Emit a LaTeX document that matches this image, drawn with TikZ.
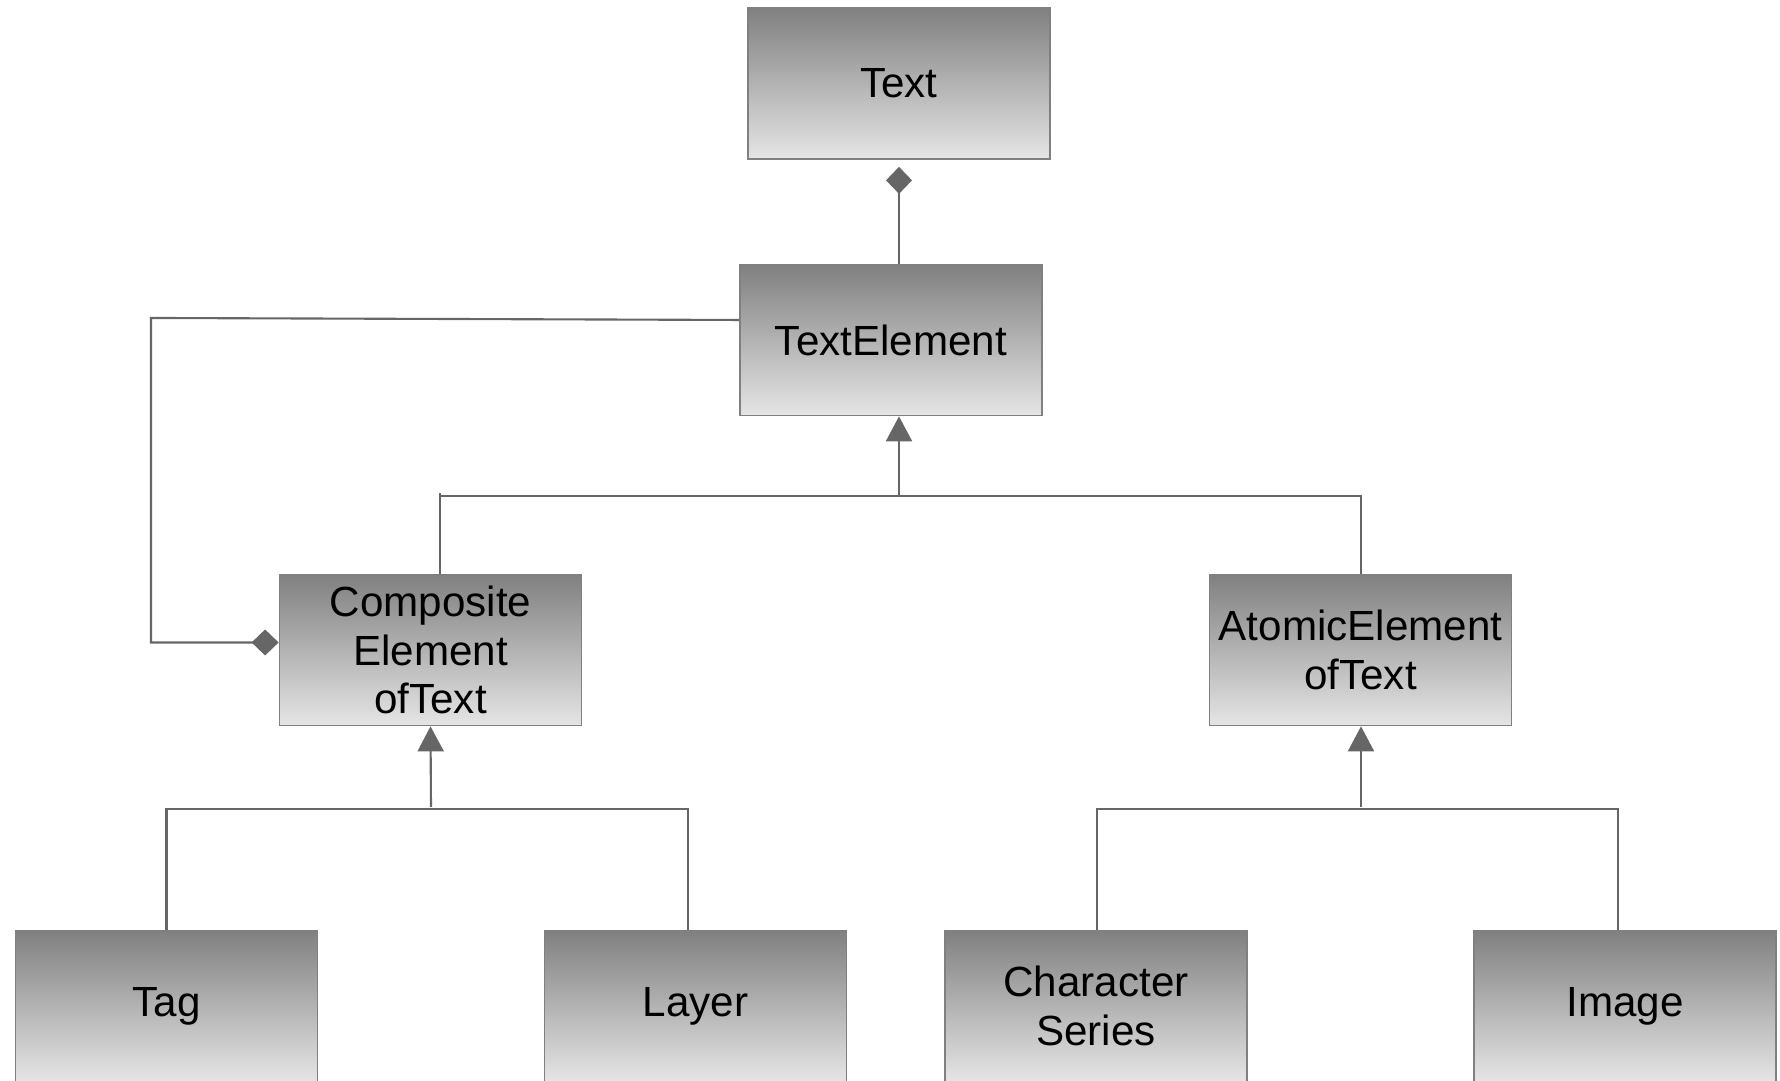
\documentclass[tikz,border=0pt]{standalone}
\usepackage{fontspec}
\setmainfont{Liberation Sans}
\usetikzlibrary{arrows.meta}
\definecolor{boxtop}{RGB}{128,128,128}
\definecolor{boxbot}{RGB}{229,229,229}
\definecolor{edgegray}{RGB}{128,128,128}
\definecolor{linegray}{RGB}{102,102,102}

\begin{document}
\begin{tikzpicture}[
		umlbox/.style={draw=edgegray, line width=0.5pt, top color=boxtop, bottom color=boxbot,
			minimum width=3.02cm, minimum height=1.51cm, inner sep=0pt, align=center,
			font=\fontsize{12}{13.7}\selectfont},
		link/.style={draw=linegray, line width=0.6pt},
		owns/.style={link, -{Diamond[length=0.27cm, width=0.26cm]}},
		isa/.style={link, -{Triangle[length=0.25cm, width=0.26cm]}}
	]
	\useasboundingbox (0,0) rectangle (17.8,10.81);

	% Classes
	\node[umlbox] (text) at (8.99,9.975) {Text};
	\node[umlbox] (textel) at (8.91,7.41) {TextElement};
	\node[umlbox] (comp) at (4.305,4.31) {Composite\\Element\\ofText};
	\node[umlbox] (atom) at (13.605,4.31) {AtomicElement\\ofText};
	\node[umlbox] (tag) at (1.665,0.75) {Tag};
	\node[umlbox] (layer) at (6.955,0.75) {Layer};
	\node[umlbox] (chars) at (10.96,0.75) {Character\\Series};
	\node[umlbox] (image) at (16.25,0.75) {Image};

	% Composition
	\draw[owns, shorten >=0.07cm] (textel.north -| text.south) -- (text.south);
	\coordinate (aggtop) at (1.51,7.63);
	\coordinate (aggbot) at (1.51,4.385);
	\draw[owns] ([yshift=0.2cm]textel.west) -- (aggtop) -- (aggbot) -- ([yshift=0.075cm]comp.west);

	% Inheritance from TextElement
	\coordinate (busL) at (4.40,5.85);
	\coordinate (busM) at (8.99,5.85);
	\coordinate (busR) at (13.61,5.85);
	\draw[isa] (busM) -- (busM |- textel.south);
	\draw[link] (comp.north -| busL) -- ([yshift=0.03cm]busL);
	\draw[link] (busL) -- (busR) -- (busR |- atom.north);

	% Inheritance from CompositeElementofText
	\coordinate (cbus) at (4.31,2.72);
	\draw[isa] ([yshift=0.02cm]cbus) -- (comp.south);
	\draw[link] (tag.north) -- (tag.north |- cbus) -- ([xshift=-0.075cm]layer.north |- cbus)
		-- ([xshift=-0.075cm]layer.north);

	% Inheritance from AtomicElementofText
	\coordinate (abus) at (13.61,2.72);
	\draw[isa] ([yshift=0.02cm]abus) -- (abus |- atom.south);
	\draw[link] ([xshift=0.01cm]chars.north) -- ([xshift=0.01cm]chars.north |- abus)
		-- ([xshift=-0.07cm]image.north |- abus) -- ([xshift=-0.07cm]image.north);
\end{tikzpicture}
\end{document}
